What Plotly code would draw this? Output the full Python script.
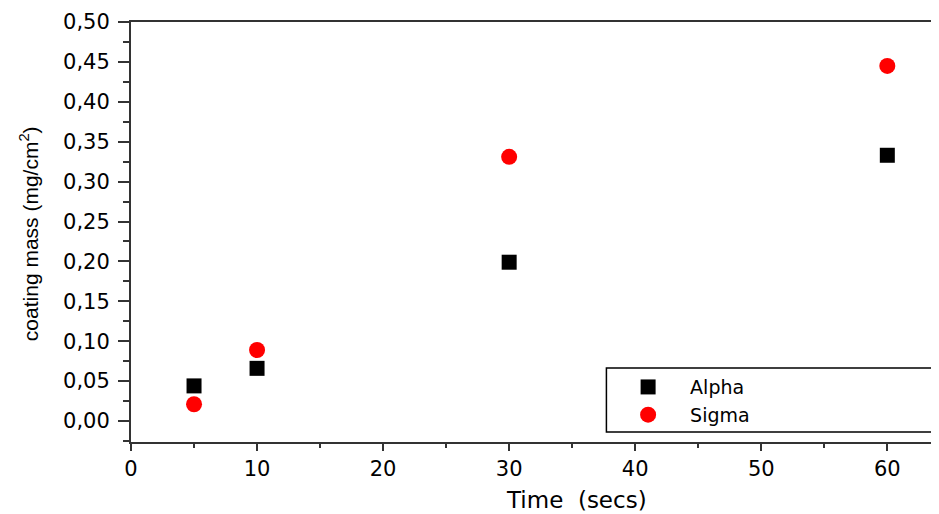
import plotly.graph_objects as go

time_secs = [5, 10, 30, 60]
alpha_mass = [0.044, 0.066, 0.199, 0.333]
sigma_mass = [0.021, 0.089, 0.331, 0.445]

y_ticks = [0.0, 0.05, 0.10, 0.15, 0.20, 0.25, 0.30, 0.35, 0.40, 0.45, 0.50]
x_ticks = [0, 10, 20, 30, 40, 50, 60]

FONT = "DejaVu Sans, Arial, sans-serif"
LAB = "Liberation Sans, Arial, sans-serif"

fig = go.Figure()
fig.add_trace(go.Scatter(x=time_secs, y=alpha_mass, mode="markers", name="Alpha",
                         marker=dict(symbol="square", size=15, color="black")))
fig.add_trace(go.Scatter(x=time_secs, y=sigma_mass, mode="markers", name="Sigma",
                         marker=dict(symbol="circle", size=16, color="#ff0000")))

fig.update_layout(
    width=931, height=506,
    margin=dict(l=123, r=0, t=14, b=72),
    paper_bgcolor="white", plot_bgcolor="white",
    separators=", ",
    font=dict(family=FONT, color="black", size=20),
    showlegend=True,
    legend=dict(x=0.588, y=0.176, xanchor="left", yanchor="top",
                bgcolor="rgba(0,0,0,0)", borderwidth=0,
                font=dict(size=19, family=FONT), itemwidth=74,
                tracegroupgap=0),
    xaxis=dict(range=[0, 64.1], tickvals=x_ticks, ticks="outside", ticklen=7,
               tickwidth=2, tickcolor="#333", showline=True, linecolor="#333",
               linewidth=2, mirror=True, showgrid=False, zeroline=False,
               tickfont=dict(size=21),
               minor=dict(tickvals=[5, 15, 25, 35, 45, 55], ticks="outside",
                          ticklen=4, tickwidth=2, tickcolor="#333")),
    yaxis=dict(range=[-0.0263, 0.5], tickvals=y_ticks, tickformat=".2f",
               ticks="outside", ticklen=11, tickwidth=2, tickcolor="#333",
               showline=True, linecolor="#333", linewidth=2, showgrid=False,
               zeroline=False, tickfont=dict(size=21), ticklabelstandoff=4,
               minor=dict(tickvals=[-0.025, 0.025, 0.075, 0.125, 0.175, 0.225,
                                    0.275, 0.325, 0.375, 0.425, 0.475],
                          ticks="outside", ticklen=6, tickwidth=2, tickcolor="#333")),
)

fig.add_shape(type="rect", xref="paper", yref="paper",
              x0=(606 - 130) / 809, x1=(935 - 130) / 809,
              y0=(442 - 432) / 420, y1=(442 - 368) / 420,
              line=dict(color="black", width=1.5), fillcolor="rgba(0,0,0,0)")

fig.add_annotation(text="Time  (secs)", xref="paper", yref="paper",
                   x=(576 - 130) / 809, y=(442 - 500) / 420, xanchor="center",
                   yanchor="middle", showarrow=False, font=dict(size=23))
fig.add_annotation(text="coating mass (mg/cm<sup>2</sup>)", xref="paper", yref="paper",
                   x=(28 - 130) / 809, y=(442 - 234) / 420, xanchor="center",
                   yanchor="middle", textangle=-90, showarrow=False,
                   font=dict(size=21, family=LAB))

fig.write_html("out.html")
